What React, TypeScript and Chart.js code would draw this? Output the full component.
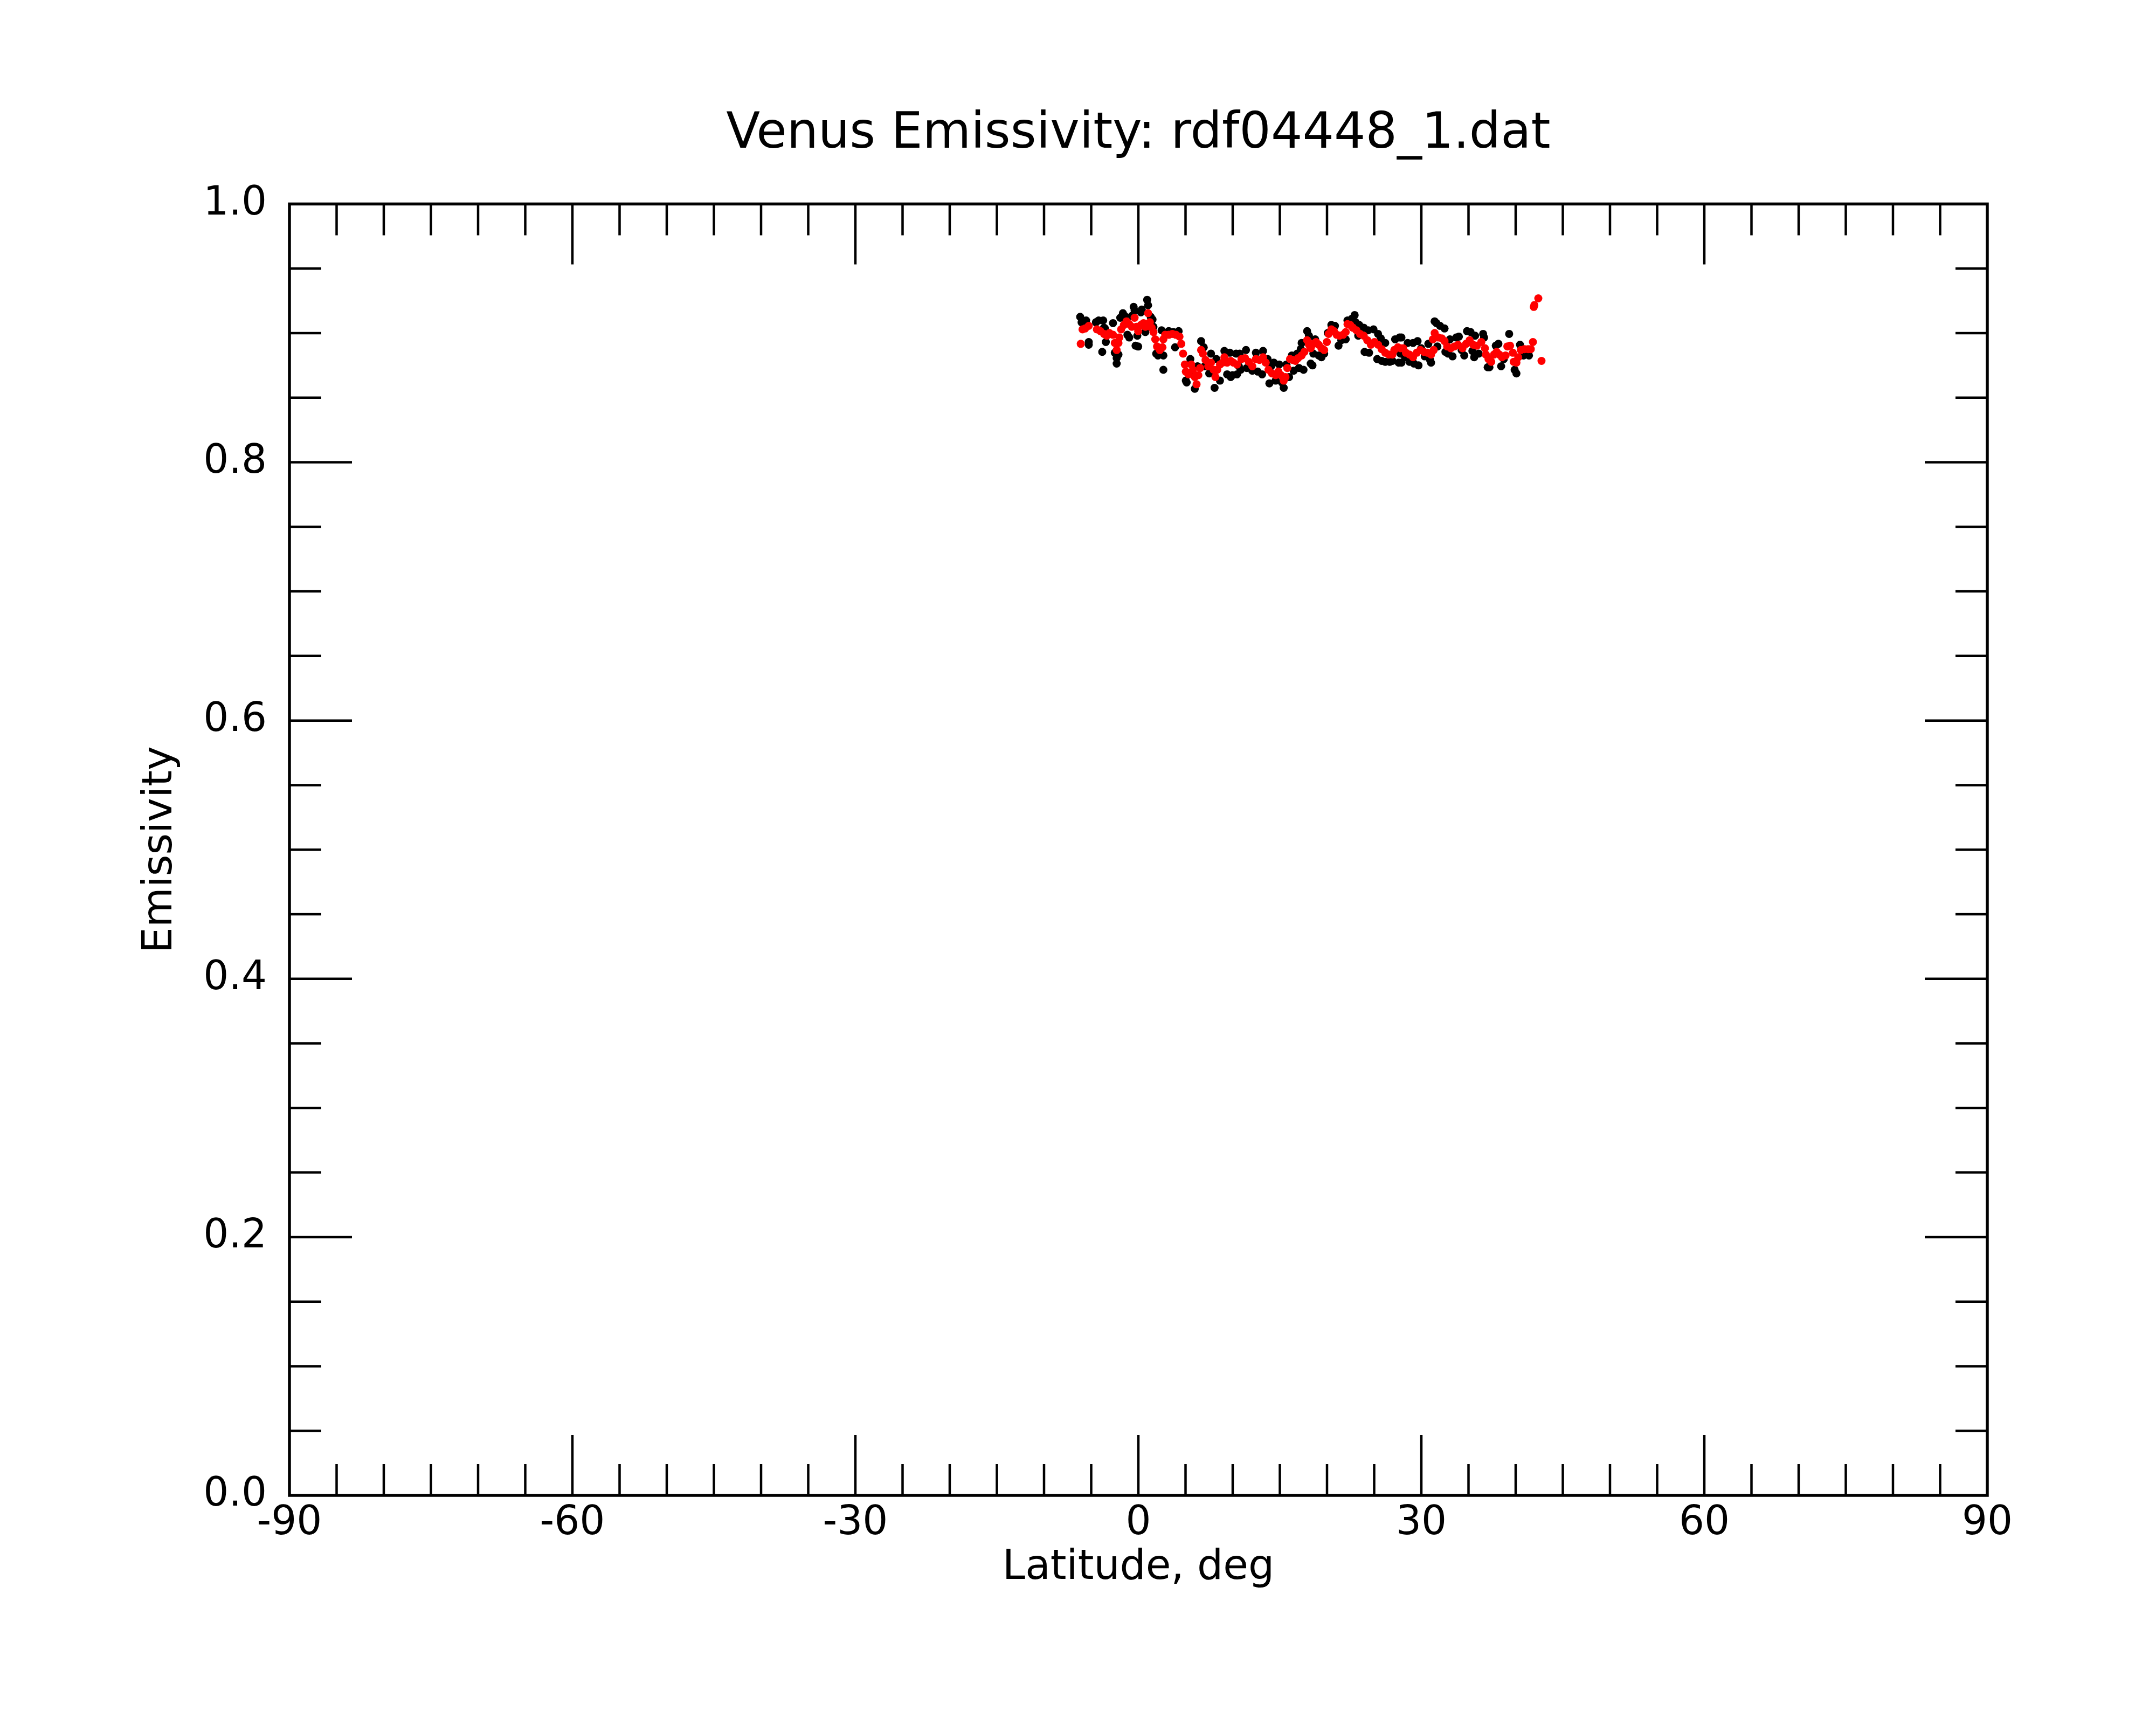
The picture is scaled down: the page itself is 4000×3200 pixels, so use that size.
import { useEffect, useRef } from "react"
import { Chart, registerables } from "chart.js"

Chart.register(...registerables)

// Axis ticks
const xTickValues = [-90, -60, -30, 0, 30, 60, 90]
const yTickValues = [0, 0.2, 0.4, 0.6, 0.8, 1.0]
const xMinorStep = 5
const yMinorStep = 0.05

// Smoothed emissivity (red)
const redLat = [
  -6.11, -5.92, -5.64, -5.26, -4.40, -4.02, -3.64, -3.35, -3.07, -2.69,
  -2.50, -2.30, -2.11, -2.02, -1.83, -1.54, -1.26, -0.97, -0.69, -0.40,
  -0.21, -0.02, 0.27, 0.55, 0.74, 1.03, 1.22, 1.41, 1.60, 1.79,
  1.98, 2.27, 2.55, 2.65, 2.84, 3.22, 3.60, 3.98, 4.36, 4.55,
  4.74, 4.93, 5.03, 5.31, 5.60, 5.79, 5.98, 6.17, 6.36, 6.55,
  6.65, 6.84, 7.12, 7.41, 7.70, 7.98, 8.17, 8.36, 8.65, 8.93,
  9.12, 9.41, 9.79, 10.08, 10.46,
  10.93, 11.31, 11.70, 12.08, 12.46, 12.84, 13.22, 13.50, 13.79, 14.17,
  14.55, 14.84, 15.12, 15.41, 15.60, 15.79, 16.08, 16.36, 16.65, 16.93,
  17.31, 17.60, 17.89, 18.08, 18.27, 18.55, 18.84, 19.12, 19.41, 19.70,
  19.98, 20.17, 20.46, 20.74, 21.03, 21.32, 21.70, 21.98, 22.17, 22.46,
  22.74, 23.12, 23.50, 23.89, 24.27, 24.65, 25.03, 25.41, 25.79, 26.17,
  26.55, 26.93, 27.13, 27.51, 27.79,
  28.08, 28.36, 28.74, 29.12, 29.51, 29.89, 30.27, 30.65, 31.03, 31.31,
  31.22, 31.41, 31.79, 32.17, 32.46, 32.74, 33.12, 33.51, 33.89, 34.36,
  34.74, 35.12, 35.50, 35.89, 36.36, 36.74, 36.84, 37.12, 37.41, 37.70,
  37.98, 38.27, 38.55, 38.93, 39.12, 39.41, 39.70, 39.79, 40.08, 40.27,
  40.55, 40.93, 41.32, 41.60, 41.83, 41.92, 41.98, 42.40, 42.74,
]
const redEmis = [
  0.8917, 0.9029, 0.9036, 0.9056, 0.9029, 0.9015, 0.8994, 0.8980, 0.9001, 0.8987,
  0.8924, 0.8869, 0.8924, 0.8966, 0.9029, 0.9063, 0.9091, 0.9070, 0.9049, 0.9119,
  0.9049, 0.9015, 0.9063, 0.9077, 0.9049, 0.9154, 0.9084, 0.9042, 0.9008, 0.8952,
  0.8896, 0.8869, 0.8890, 0.8952, 0.8987, 0.8987, 0.8994, 0.8987, 0.8973, 0.8917,
  0.8841, 0.8757, 0.8702, 0.8681, 0.8757, 0.8716, 0.8660, 0.8604, 0.8674, 0.8730,
  0.8869, 0.8841, 0.8792, 0.8743, 0.8771, 0.8716, 0.8660, 0.8716, 0.8757, 0.8771,
  0.8813, 0.8771, 0.8785, 0.8771, 0.8757,
  0.8799, 0.8806, 0.8778, 0.8743, 0.8799, 0.8792, 0.8813, 0.8771, 0.8716, 0.8688,
  0.8674, 0.8702, 0.8674, 0.8632, 0.8660, 0.8730, 0.8799, 0.8792, 0.8785, 0.8806,
  0.8827, 0.8855, 0.8945, 0.8910, 0.8883, 0.8917, 0.8931, 0.8910, 0.8883, 0.8869,
  0.8931, 0.8994, 0.9029, 0.9015, 0.8987, 0.8980, 0.8987, 0.9008, 0.9070, 0.9063,
  0.9042, 0.9022, 0.8994, 0.8980, 0.8945, 0.8910, 0.8931, 0.8910, 0.8876, 0.8848,
  0.8834, 0.8834, 0.8869, 0.8890, 0.8883,
  0.8883, 0.8848, 0.8834, 0.8813, 0.8848, 0.8869, 0.8855, 0.8848, 0.8834, 0.8869,
  0.8952, 0.9001, 0.8966, 0.8959, 0.8938, 0.8897, 0.8883, 0.8897, 0.8910, 0.8883,
  0.8917, 0.8945, 0.8910, 0.8903, 0.8931, 0.8883, 0.8834, 0.8799, 0.8778, 0.8834,
  0.8855, 0.8834, 0.8813, 0.8827, 0.8897, 0.8903, 0.8848, 0.8778, 0.8771, 0.8813,
  0.8869, 0.8876, 0.8876, 0.8876, 0.8931, 0.9203, 0.9217, 0.9269, 0.8785,
]

// Raw emissivity (black)
const blackLat = [
  -6.17, -6.02, -5.54, -5.26, -5.26, -4.50, -4.21, -3.73, -3.64, -3.54,
  -2.69, -3.45, -3.83, -2.50, -2.30, -2.30, -2.11, -1.92, -1.64, -1.45,
  -1.16, -0.97, -0.50, -0.40, -0.69, -0.11, -0.30, -0.02, 0.27, 0.36,
  0.74, 0.93, 1.03, 1.31, 1.50, 1.60, 1.89, 2.08, 2.65, 2.46,
  2.65, 3.22, 3.70, 3.89, 4.27, 5.03, 5.12, 5.51, 5.60, 5.98,
  6.27, 6.65, 6.93, 7.03, 7.51, 7.70, 8.08, 8.27, 8.65, 9.12,
  9.41, 9.70, 9.79, 9.98, 10.36, 10.46, 10.65,
  10.74, 10.84, 11.41, 11.50, 12.08, 12.46, 12.65, 13.22, 13.12, 13.70,
  13.89, 14.08, 14.36, 14.55, 14.93, 15.22, 15.41, 15.70, 15.98, 16.27,
  16.46, 16.84, 17.03, 17.31, 17.22, 17.51, 17.89, 18.08, 18.27, 18.46,
  18.55, 18.74, 19.12, 19.41, 19.70, 20.08, 20.46, 20.84, 21.22, 21.51,
  21.98, 22.17, 22.93, 22.65, 23.03, 23.41, 23.31, 23.89, 23.98, 24.36,
  24.46, 24.93, 25.41, 25.32, 25.70, 25.79, 26.17, 26.17, 26.65, 26.93,
  27.22, 27.70, 27.60, 27.79,
  27.89, 27.89, 28.27, 28.55, 28.74, 29.12, 29.22, 29.60, 29.70, 29.98,
  30.36, 30.74, 30.93, 31.03, 31.41, 31.60, 31.98, 32.46, 31.70, 32.55,
  32.84, 33.03, 33.31, 33.70, 33.98, 34.27, 34.55, 34.84, 35.22, 35.41,
  35.70, 35.60, 36.08, 36.55, 36.65, 37.03, 37.22, 37.89, 38.17, 38.46,
  38.74, 39.31, 39.89, 40.08, 40.46, 40.84, 41.41,
]
const blackEmis = [
  0.9126, 0.9084, 0.9098, 0.8931, 0.8910, 0.9084, 0.9098, 0.9098, 0.9042, 0.9036,
  0.9077, 0.8931, 0.8855, 0.8848, 0.8806, 0.8764, 0.8834, 0.9119, 0.9154, 0.9133,
  0.8987, 0.8966, 0.9203, 0.9175, 0.9133, 0.8980, 0.8903, 0.8896, 0.9161, 0.9182,
  0.9008, 0.9258, 0.9216, 0.9126, 0.9105, 0.9049, 0.8841, 0.8827, 0.8827, 0.9022,
  0.8716, 0.9015, 0.9008, 0.8890, 0.9015, 0.8632, 0.8618, 0.8799, 0.8695, 0.8569,
  0.8743, 0.8938, 0.8890, 0.8743, 0.8688, 0.8841, 0.8576, 0.8799, 0.8632, 0.8862,
  0.8681, 0.8848, 0.8660, 0.8674, 0.8841, 0.8681, 0.8743,
  0.8841, 0.8716, 0.8869, 0.8730, 0.8709, 0.8848, 0.8702, 0.8862, 0.8681, 0.8799,
  0.8611, 0.8743, 0.8771, 0.8632, 0.8757, 0.8618, 0.8576, 0.8757, 0.8660, 0.8827,
  0.8709, 0.8841, 0.8730, 0.8924, 0.8876, 0.8716, 0.9015, 0.8980, 0.8764, 0.8750,
  0.8841, 0.8952, 0.8827, 0.8813, 0.8841, 0.9001, 0.9063, 0.9056, 0.8903, 0.8945,
  0.8952, 0.9098, 0.9140, 0.9112, 0.9084, 0.9063, 0.8980, 0.9042, 0.8855, 0.9022,
  0.8848, 0.9029, 0.8994, 0.8799, 0.8959, 0.8785, 0.8924, 0.8778, 0.8778, 0.8785,
  0.8952, 0.8966, 0.8771, 0.8841,
  0.8966, 0.8771, 0.8813, 0.8924, 0.8778, 0.8924, 0.8764, 0.8938, 0.8750, 0.8883,
  0.8820, 0.8917, 0.8792, 0.8771, 0.9091, 0.9077, 0.9056, 0.9036, 0.8896, 0.8855,
  0.8841, 0.8952, 0.8820, 0.8966, 0.8973, 0.8869, 0.8827, 0.9015, 0.9008, 0.8862,
  0.8980, 0.8813, 0.8841, 0.8994, 0.8966, 0.8736, 0.8736, 0.8903, 0.8917, 0.8743,
  0.8799, 0.8994, 0.8716, 0.8688, 0.8910, 0.8827, 0.8827,
]

const toPoints = (xs: number[], ys: number[]) => xs.map((x, i) => ({ x, y: ys[i] }))

const font = "DejaVu Sans"

// Box round the plot with inward ticks on all four sides
const framePlugin = {
  id: "frame",
  afterDraw(chart: any) {
    const { ctx, chartArea: a, scales } = chart
    const xs = scales.x
    const ys = scales.y
    ctx.save()
    ctx.strokeStyle = "#000"
    ctx.lineWidth = 4.5
    ctx.lineCap = "butt"
    ctx.beginPath()
    const xMin = xTickValues[0]
    const xMax = xTickValues[xTickValues.length - 1]
    const nx = Math.round((xMax - xMin) / xMinorStep)
    for (let i = 1; i < nx; i++) {
      const v = xMin + i * xMinorStep
      const px = xs.getPixelForValue(v)
      const len = xTickValues.includes(v) ? 112 : 58
      ctx.moveTo(px, a.bottom)
      ctx.lineTo(px, a.bottom - len)
      ctx.moveTo(px, a.top)
      ctx.lineTo(px, a.top + len)
    }
    const yMin = yTickValues[0]
    const yMax = yTickValues[yTickValues.length - 1]
    const ny = Math.round((yMax - yMin) / yMinorStep)
    const majorEvery = Math.round((yTickValues[1] - yTickValues[0]) / yMinorStep)
    for (let i = 1; i < ny; i++) {
      const v = yMin + i * yMinorStep
      const py = ys.getPixelForValue(v)
      const len = i % majorEvery === 0 ? 116 : 59
      ctx.moveTo(a.left, py)
      ctx.lineTo(a.left + len, py)
      ctx.moveTo(a.right, py)
      ctx.lineTo(a.right - len, py)
    }
    ctx.stroke()
    ctx.lineWidth = 5.5
    ctx.strokeRect(a.left, a.top, a.right - a.left, a.bottom - a.top)
    ctx.restore()
  },
}

export default function App() {
  const chartRef = useRef<HTMLCanvasElement>(null)
  const chartInstance = useRef<Chart | null>(null)

  useEffect(() => {
    if (!chartRef.current) return
    if (chartInstance.current) chartInstance.current.destroy()

    const ctx = chartRef.current.getContext("2d")
    if (!ctx) return

    chartInstance.current = new Chart(ctx, {
      type: "scatter",
      data: {
        datasets: [
          {
            label: "Smoothed",
            data: toPoints(redLat, redEmis),
            backgroundColor: "#ff0000",
            borderWidth: 0,
            pointRadius: 7.5,
          },
          {
            label: "Raw",
            data: toPoints(blackLat, blackEmis),
            backgroundColor: "#000000",
            borderWidth: 0,
            pointRadius: 7.5,
          },
        ],
      },
      options: {
        responsive: false,
        devicePixelRatio: 1,
        animation: false,
        layout: { padding: { left: 253, right: 313, top: 0, bottom: 245 } },
        plugins: {
          legend: { display: false },
          tooltip: { enabled: false },
          title: {
            display: true,
            text: "Venus Emissivity: rdf04448_1.dat",
            fullSize: false,
            color: "#000",
            font: { family: font, size: 92, weight: "normal" },
            padding: { top: 195, bottom: 73 },
          },
        },
        scales: {
          x: {
            type: "linear",
            min: xTickValues[0],
            max: xTickValues[xTickValues.length - 1],
            afterBuildTicks: (scale: any) => {
              scale.ticks = xTickValues.map((v) => ({ value: v }))
            },
            afterFit: (scale: any) => {
              scale.height = 181
            },
            grid: { display: false, drawTicks: false },
            border: { display: false },
            ticks: {
              color: "#000",
              font: { family: font, size: 74 },
              padding: 8,
              maxRotation: 0,
              autoSkip: false,
              callback: (v: any) => String(v),
            },
            title: {
              display: true,
              text: "Latitude, deg",
              color: "#000",
              font: { family: font, size: 76 },
              padding: 0,
            },
          },
          y: {
            type: "linear",
            min: yTickValues[0],
            max: yTickValues[yTickValues.length - 1],
            afterBuildTicks: (scale: any) => {
              scale.ticks = yTickValues.map((v) => ({ value: v }))
            },
            afterFit: (scale: any) => {
              scale.width = 284
            },
            grid: { display: false, drawTicks: false },
            border: { display: false },
            ticks: {
              color: "#000",
              font: { family: font, size: 74 },
              padding: 42,
              autoSkip: false,
              callback: (v: any) => Number(v).toFixed(1),
            },
            title: {
              display: true,
              text: "Emissivity",
              color: "#000",
              font: { family: font, size: 76 },
              padding: 0,
            },
          },
        },
      },
      plugins: [framePlugin],
    })

    return () => {
      if (chartInstance.current) {
        chartInstance.current.destroy()
        chartInstance.current = null
      }
    }
  }, [])

  return (
    <div style={{ position: "absolute", left: 0, top: 0, width: 4000, height: 3200, background: "#fff" }}>
      <canvas ref={chartRef} width={4000} height={3200} style={{ display: "block" }}></canvas>
    </div>
  )
}
